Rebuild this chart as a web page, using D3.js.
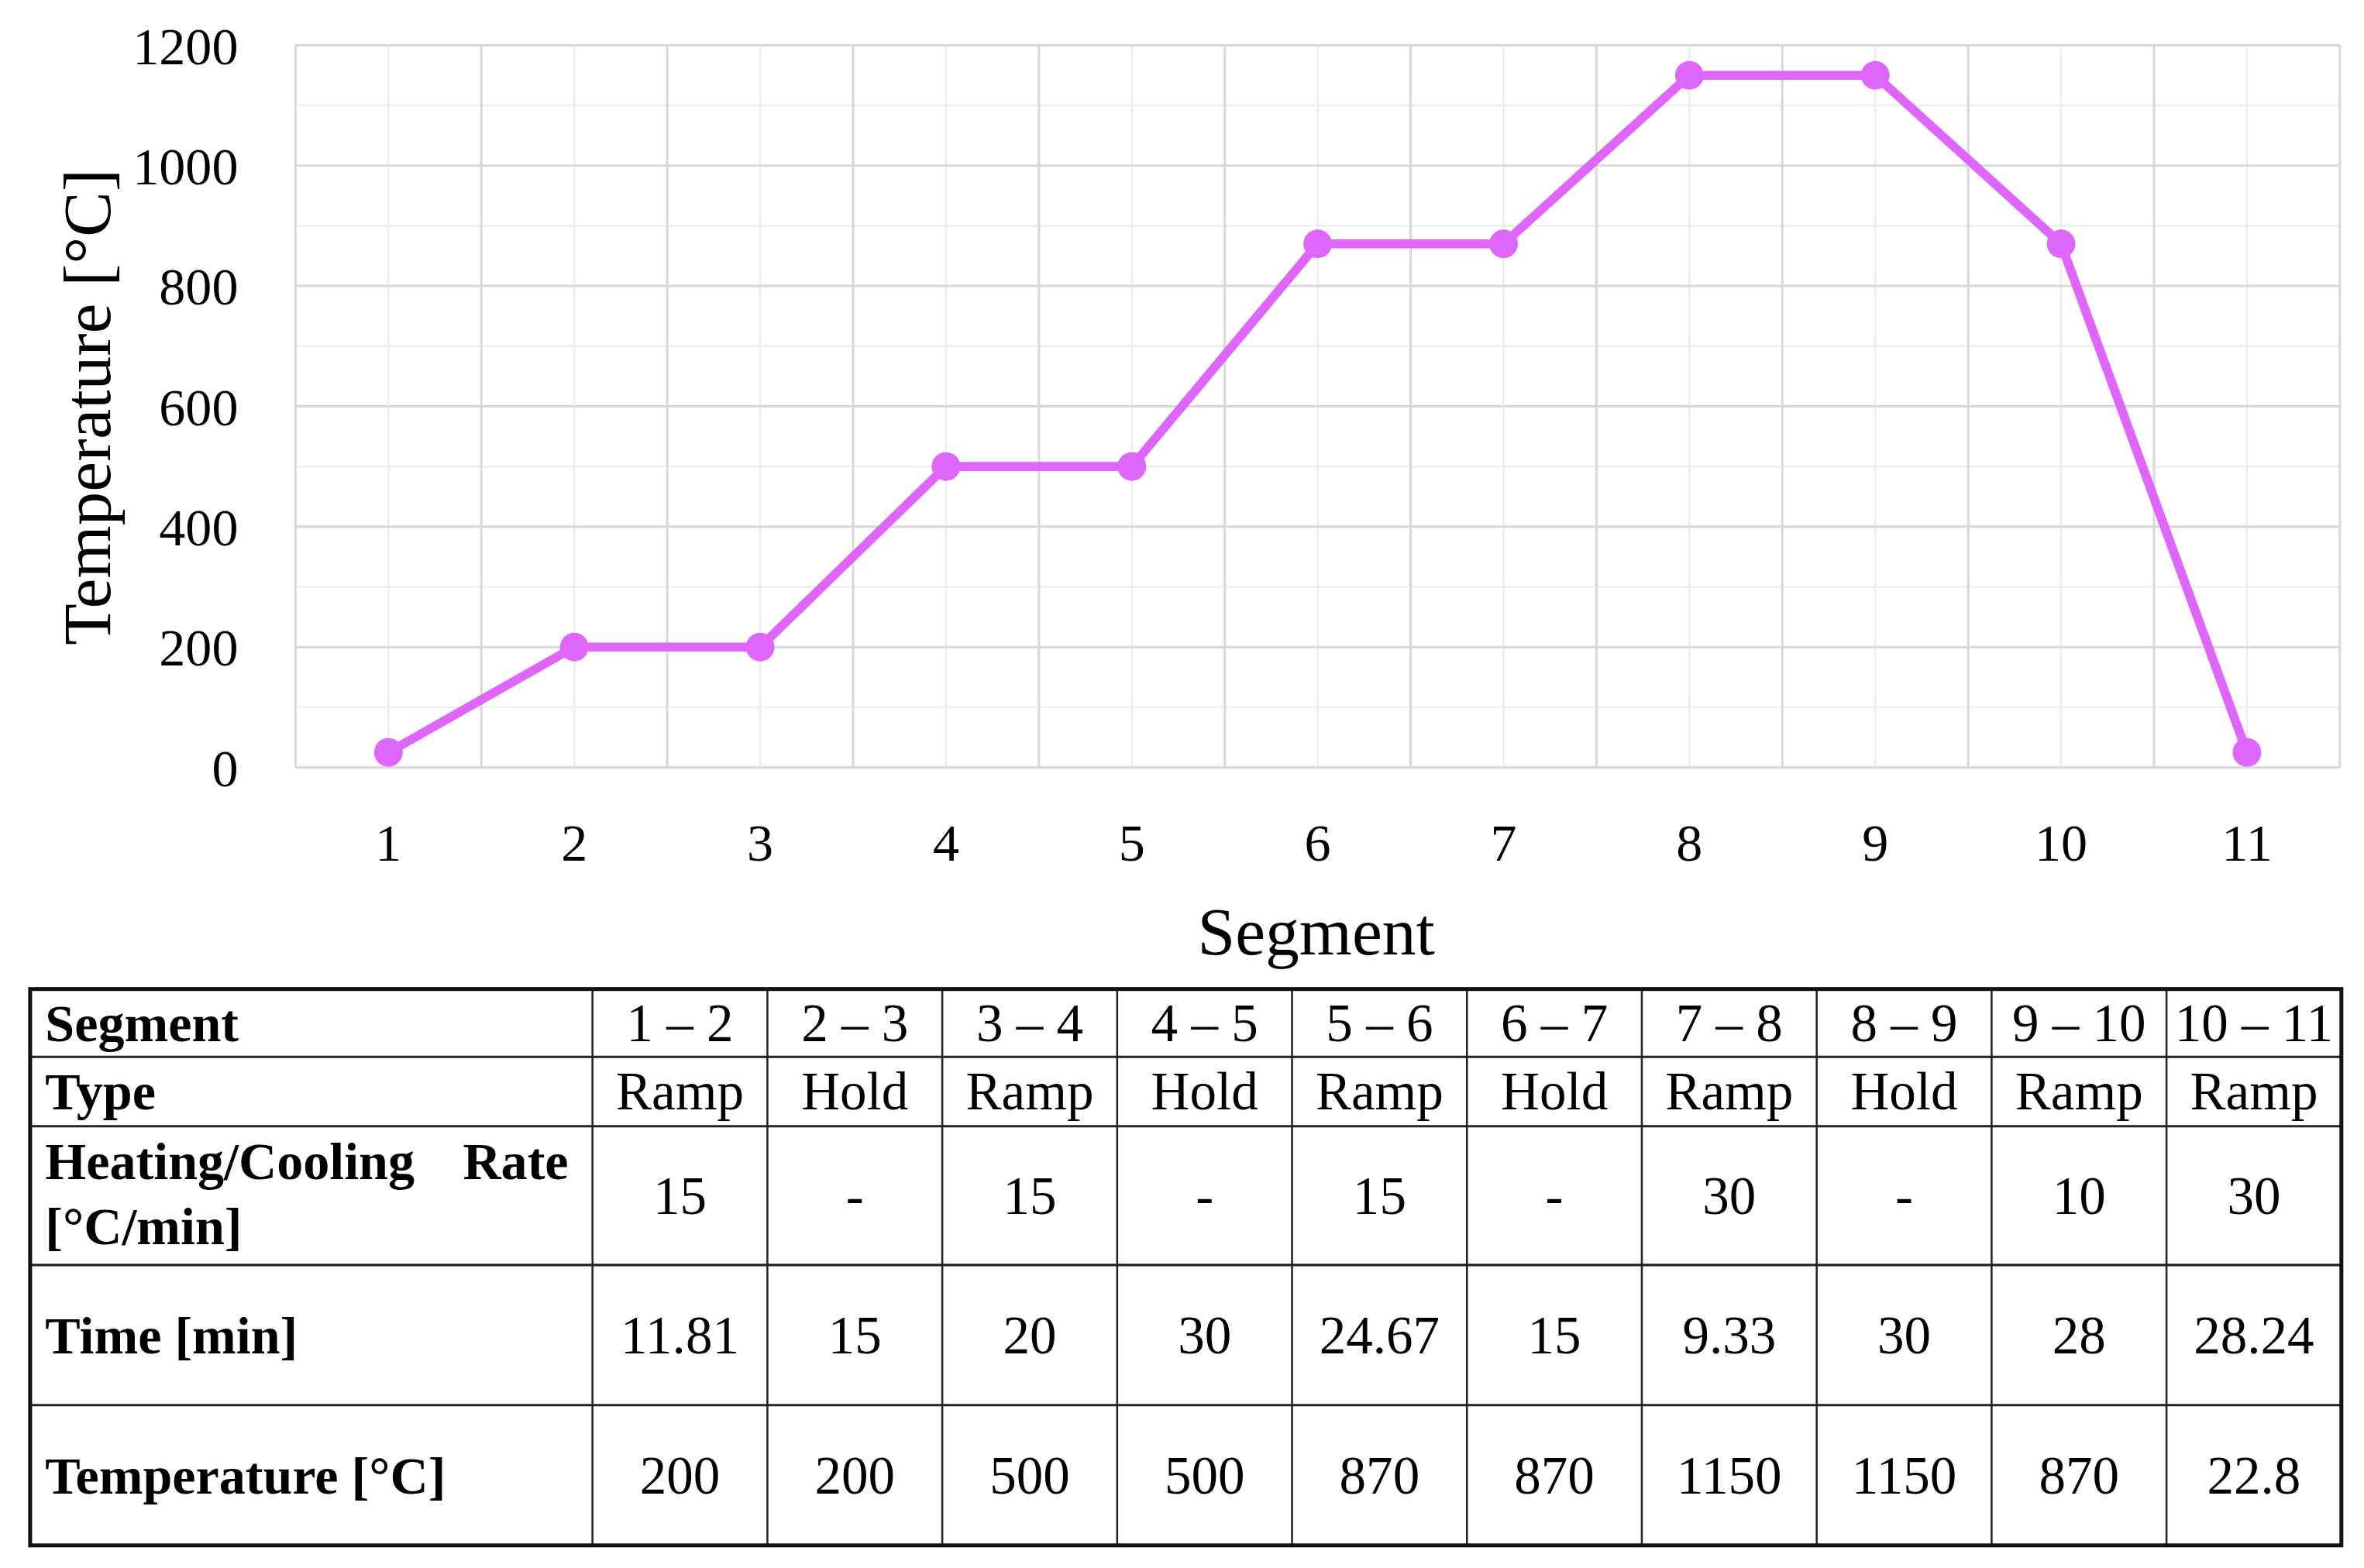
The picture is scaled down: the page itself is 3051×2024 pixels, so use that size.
<!DOCTYPE html>
<html>
<head>
<meta charset="utf-8">
<script src="https://cdn.jsdelivr.net/npm/d3@7"></script>
<style>
  html, body { margin: 0; padding: 0; background: #fff; }
  svg { display: block; }
  text { font-family: "Liberation Serif", "Times New Roman", serif; fill: #000; }
</style>
</head>
<body>
<svg id="chart"></svg>
<script>
// chart data
const segments = ['1', '2', '3', '4', '5', '6', '7', '8', '9', '10', '11'];
const temps = [25, 200, 200, 500, 500, 870, 870, 1150, 1150, 870, 25];
const yTicks = [0, 200, 400, 600, 800, 1000, 1200];
const yMinorTicks = [100, 300, 500, 700, 900, 1100];

// table data
const rowLabels = ['Segment', 'Type', 'Heating/Cooling|Rate|[°C/min]', 'Time [min]', 'Temperature [°C]'];
const tableSegments = ['1 – 2', '2 – 3', '3 – 4', '4 – 5', '5 – 6', '6 – 7', '7 – 8', '8 – 9', '9 – 10', '10 – 11'];
const types = ['Ramp', 'Hold', 'Ramp', 'Hold', 'Ramp', 'Hold', 'Ramp', 'Hold', 'Ramp', 'Ramp'];
const rates = ['15', '-', '15', '-', '15', '-', '30', '-', '10', '30'];
const times = ['11.81', '15', '20', '30', '24.67', '15', '9.33', '30', '28', '28.24'];
const tableTemps = ['200', '200', '500', '500', '870', '870', '1150', '1150', '870', '22.8'];

const W = 1568, H = 1040;
const svg = d3.select('#chart')
  .attr('width', 3051)
  .attr('height', 2024)
  .attr('viewBox', `0 0 ${W} ${H}`)
  .attr('preserveAspectRatio', 'none');

const plot = { left: 196, right: 1552, top: 30, bottom: 509 };

const x = d3.scaleBand()
  .domain(segments)
  .range([plot.left, plot.right])
  .padding(0);

const y = d3.scaleLinear()
  .domain([0, 1200])
  .range([plot.bottom, plot.top]);

const cx = (s) => x(s) + x.bandwidth() / 2;

// minor grid
const grid = svg.append('g');
grid.selectAll('.hminor')
  .data(yMinorTicks)
  .enter().append('line')
  .attr('x1', plot.left).attr('x2', plot.right)
  .attr('y1', (d) => y(d)).attr('y2', (d) => y(d))
  .attr('stroke', '#ededed').attr('stroke-width', 1.3);

grid.selectAll('.vminor')
  .data(segments)
  .enter().append('line')
  .attr('x1', (d) => cx(d)).attr('x2', (d) => cx(d))
  .attr('y1', plot.top).attr('y2', plot.bottom)
  .attr('stroke', '#ededed').attr('stroke-width', 1.3);

// major grid
grid.selectAll('.hmajor')
  .data(yTicks)
  .enter().append('line')
  .attr('x1', plot.left).attr('x2', plot.right)
  .attr('y1', (d) => y(d)).attr('y2', (d) => y(d))
  .attr('stroke', '#d9d9d9').attr('stroke-width', 1.6);

const bounds = segments.map((s) => x(s)).concat([plot.right]);
grid.selectAll('.vmajor')
  .data(bounds)
  .enter().append('line')
  .attr('x1', (d) => d).attr('x2', (d) => d)
  .attr('y1', plot.top).attr('y2', plot.bottom)
  .attr('stroke', '#d9d9d9').attr('stroke-width', 1.6);

// axes (labels only)
const yAxis = svg.append('g')
  .attr('transform', `translate(${plot.left - 38}, 0)`)
  .call(d3.axisLeft(y).tickValues(yTicks).tickFormat(d3.format('d')).tickSize(0).tickPadding(0));
yAxis.select('.domain').remove();
yAxis.selectAll('text')
  .attr('font-family', '"Liberation Serif", serif')
  .attr('font-size', 35)
  .attr('fill', '#000')
  .attr('dy', '0.34em');

const xAxis = svg.append('g')
  .attr('transform', `translate(0, ${plot.bottom})`)
  .call(d3.axisBottom(x).tickSize(0).tickPadding(0));
xAxis.select('.domain').remove();
xAxis.selectAll('text')
  .attr('font-family', '"Liberation Serif", serif')
  .attr('font-size', 35)
  .attr('fill', '#000')
  .attr('dy', null)
  .attr('y', 62);

// axis titles
svg.append('text')
  .attr('transform', `translate(73, 270) rotate(-90)`)
  .attr('text-anchor', 'middle')
  .attr('font-size', 45)
  .text('Temperature [°C]');

svg.append('text')
  .attr('x', 873)
  .attr('y', 633)
  .attr('text-anchor', 'middle')
  .attr('font-size', 45)
  .text('Segment');

// line + markers
const line = d3.line()
  .x((d, i) => cx(segments[i]))
  .y((d) => y(d));

svg.append('path')
  .datum(temps)
  .attr('d', line)
  .attr('fill', 'none')
  .attr('stroke', '#df66fc')
  .attr('stroke-width', 6)
  .attr('stroke-linejoin', 'round');

svg.selectAll('.pt')
  .data(temps)
  .enter().append('circle')
  .attr('cx', (d, i) => cx(segments[i]))
  .attr('cy', (d) => y(d))
  .attr('r', 9.5)
  .attr('fill', '#df66fc');

// table
const tbl = { left: 20, labelRight: 393, right: 1553 };
const rowEdges = [656, 701, 747, 839, 932, 1025];
const colX = d3.scaleBand()
  .domain(d3.range(tableSegments.length))
  .range([tbl.labelRight, tbl.right]);

const rows = [tableSegments, types, rates, times, tableTemps];
const table = svg.append('g');

const boldLabel = (txt, xx, yy, anchor) => table.append('text')
  .attr('font-weight', 'bold')
  .attr('font-size', 35)
  .attr('x', xx)
  .attr('y', yy)
  .attr('text-anchor', anchor || 'start')
  .text(txt);

rows.forEach((vals, r) => {
  const top = rowEdges[r], bot = rowEdges[r + 1];
  const mid = (top + bot) / 2;
  const parts = rowLabels[r].split('|');
  if (parts.length === 1) {
    boldLabel(parts[0], 30, mid + 12);
  } else {
    // justified first line, as in the source table
    boldLabel(parts[0], 30, mid - 11);
    boldLabel(parts[1], 377, mid - 11, 'end');
    boldLabel(parts[2], 30, mid + 32);
  }
  table.selectAll(null)
    .data(vals)
    .enter().append('text')
    .attr('x', (d, i) => colX(i) + colX.bandwidth() / 2)
    .attr('y', mid + 12)
    .attr('text-anchor', 'middle')
    .attr('font-size', 35.5)
    .text((d) => d);
});

// inner lines
table.selectAll('.hl')
  .data(rowEdges.slice(1, -1))
  .enter().append('line')
  .attr('x1', tbl.left).attr('x2', tbl.right)
  .attr('y1', (d) => d).attr('y2', (d) => d)
  .attr('stroke', '#222').attr('stroke-width', 1.6);

const colEdges = [tbl.labelRight].concat(d3.range(1, tableSegments.length).map((i) => colX(i)));
table.selectAll('.vl')
  .data(colEdges)
  .enter().append('line')
  .attr('x1', (d) => d).attr('x2', (d) => d)
  .attr('y1', rowEdges[0]).attr('y2', rowEdges[rowEdges.length - 1])
  .attr('stroke', '#222').attr('stroke-width', 1.3);

// outer border
table.append('rect')
  .attr('x', tbl.left).attr('y', rowEdges[0])
  .attr('width', tbl.right - tbl.left)
  .attr('height', rowEdges[rowEdges.length - 1] - rowEdges[0])
  .attr('fill', 'none')
  .attr('stroke', '#111')
  .attr('stroke-width', 2.6);
</script>
</body>
</html>
